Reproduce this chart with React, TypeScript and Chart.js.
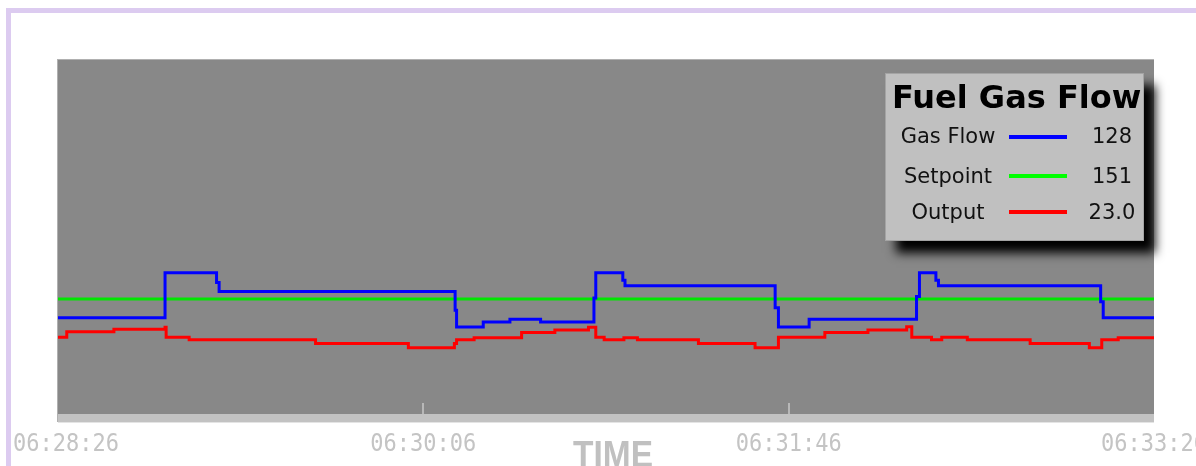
import React, { useEffect, useRef } from 'react';
import { Chart, registerables } from 'chart.js';

Chart.register(...registerables);

// ---- data ----
const tickSeconds = [0, 100, 200, 300];
const tickLabels = ['06:28:26', '06:30:06', '06:31:46', '06:33:26'];
const axisTitle = 'TIME';
const legendTitle = 'Fuel Gas Flow';
const seriesNames = ['Gas Flow', 'Setpoint', 'Output'];
const currentReadings = ['128', '151', '23.0'];

const gasFlowTimes = [0, 29.3, 43.4, 44.1, 108.7, 109.1, 116.4, 123.7, 132.1, 146.7, 147.2, 154.6, 155.2, 196.3, 197.2, 205.6, 235.0, 235.8, 240.3, 241.0, 285.4, 286.1, 300];
const gasFlowValues = [128, 183, 171, 160, 137, 116.5, 122.7, 126, 122.7, 152, 183, 174, 167, 140, 116.5, 126, 154, 183, 174, 167, 147.5, 128, 128];

const setpointTimes = [0, 300];
const setpointValues = [151, 151];

const outputTimes = [0, 2.4, 15.3, 29.3, 29.6, 35.9, 70.5, 95.9, 108.5, 109.1, 113.9, 126.9, 136.0, 145.2, 147.2, 149.5, 154.9, 158.6, 175.3, 190.8, 197.2, 209.9, 221.7, 232.3, 233.7, 239.1, 241.9, 248.9, 266.1, 282.3, 285.7, 290.2, 300];
const outputValues = [23.4, 24.9, 25.6, 26.2, 23.4, 22.7, 21.7, 20.5, 21.7, 22.7, 23.3, 24.7, 25.4, 26.2, 23.4, 22.7, 23.3, 22.7, 21.7, 20.5, 23.4, 24.7, 25.4, 26.3, 23.4, 22.7, 23.4, 22.7, 21.7, 20.5, 22.7, 23.3, 23.3];

const seriesColors = ['#0000ff', '#00e600', '#ff0000'];
const legendColors = ['#0000ff', '#00ff00', '#ff0000'];

const pts = (ts: number[], vs: number[]) => ts.map((t, i) => ({ x: t, y: vs[i] }));

const decorPlugin = {
  id: 'decor',
  beforeDatasetsDraw(chart: any) {
    const { ctx, chartArea: a } = chart;
    ctx.save();
    ctx.fillStyle = '#888888';
    ctx.fillRect(a.left, a.top, a.right - a.left, a.bottom - a.top);
    ctx.fillStyle = '#b0b0b0';
    ctx.fillRect(a.left - 1, a.top - 1, a.right - a.left + 1, 1);
    ctx.fillRect(a.left - 1, a.top - 1, 1, a.bottom - a.top + 1);
    ctx.restore();
  },
  afterDatasetsDraw(chart: any) {
    const { ctx, chartArea: a } = chart;
    const xs = chart.scales.x;
    ctx.save();
    ctx.fillStyle = '#c2c2c2';
    ctx.fillRect(a.left, a.bottom - 8, a.right - a.left, 8);
    ctx.fillStyle = '#e4e4e4';
    ctx.fillRect(a.left, a.bottom, a.right - a.left, 1);
    ctx.fillStyle = '#b8b8b8';
    tickSeconds.forEach((t, i) => {
      if (i === 0 || i === tickSeconds.length - 1) return;
      const px = Math.round(xs.getPixelForValue(t));
      ctx.fillRect(px - 1, a.bottom - 19, 2, 11);
    });
    ctx.restore();
  },
  afterDraw(chart: any) {
    const { ctx, chartArea: a } = chart;
    const xs = chart.scales.x;
    ctx.save();

    ctx.fillStyle = '#c4c4c4';
    ctx.font = '22px "DejaVu Sans Mono"';
    ctx.textAlign = 'center';
    ctx.textBaseline = 'alphabetic';
    tickSeconds.forEach((t, i) => {
      const w = ctx.measureText(tickLabels[i]).width;
      let px = xs.getPixelForValue(t);
      px = Math.max(px, 13 + w / 2);
      ctx.save();
      ctx.translate(px, 451);
      ctx.scale(1, 1.12);
      ctx.fillText(tickLabels[i], 0, 0);
      ctx.restore();
    });

    ctx.save();
    ctx.fillStyle = '#c0c0c0';
    ctx.font = 'bold 36px "Liberation Sans"';
    ctx.textAlign = 'center';
    ctx.translate((a.left + a.right) / 2 + 7, 467);
    ctx.scale(0.93, 1);
    ctx.fillText(axisTitle, 0, 0);
    ctx.restore();

    const bx = 885, by = 73, bw = 259, bh = 168;
    ctx.save();
    ctx.shadowColor = 'rgba(0,0,0,1)';
    ctx.shadowBlur = 10;
    ctx.shadowOffsetX = 11;
    ctx.shadowOffsetY = 12;
    ctx.fillStyle = '#c0c0c0';
    ctx.fillRect(bx, by, bw, bh);
    ctx.restore();
    ctx.strokeStyle = '#a4a4a4';
    ctx.lineWidth = 1;
    ctx.strokeRect(bx + 0.5, by + 0.5, bw - 1, bh - 1);

    ctx.fillStyle = '#000000';
    ctx.font = 'bold 32px "DejaVu Sans"';
    ctx.textAlign = 'left';
    ctx.fillText(legendTitle, 892, 108);

    const baselines = [143, 183, 219];
    const lineYs = [137, 176, 212];
    ctx.font = '21px "DejaVu Sans"';
    seriesNames.forEach((name, i) => {
      ctx.fillStyle = '#111111';
      ctx.textAlign = 'center';
      ctx.fillText(name, 948, baselines[i]);
      ctx.fillText(currentReadings[i], 1112, baselines[i]);
      ctx.fillStyle = legendColors[i];
      ctx.fillRect(1009, lineYs[i] - 2, 58, 4);
    });

    ctx.restore();
  },
};

export default function App() {
  const ref = useRef<HTMLCanvasElement | null>(null);

  useEffect(() => {
    document.body.style.margin = '0';
    if (!ref.current) return;
    const chart = new Chart(ref.current, {
      type: 'line',
      data: {
        datasets: [
          {
            label: seriesNames[0],
            data: pts(gasFlowTimes, gasFlowValues),
            borderColor: seriesColors[0],
            yAxisID: 'y',
          },
          {
            label: seriesNames[2],
            data: pts(outputTimes, outputValues),
            borderColor: seriesColors[2],
            yAxisID: 'y2',
          },
          {
            label: seriesNames[1],
            data: pts(setpointTimes, setpointValues),
            borderColor: seriesColors[1],
            yAxisID: 'y',
          },
        ].map((d) => ({
          ...d,
          stepped: 'before' as const,
          borderWidth: 3,
          pointRadius: 0,
          tension: 0,
          fill: false,
          borderCapStyle: 'butt' as const,
          borderJoinStyle: 'miter' as const,
        })),
      },
      options: {
        animation: false,
        responsive: false,
        devicePixelRatio: 1,
        layout: { padding: { left: 58, right: 42, top: 60, bottom: 44 } },
        plugins: { legend: { display: false }, tooltip: { enabled: false } },
        scales: {
          x: { type: 'linear', min: 0, max: 300, display: false },
          y: { type: 'linear', min: 0, max: 444, display: false },
          y2: { type: 'linear', min: 0, max: 100, display: false },
        },
      },
      plugins: [decorPlugin],
    });
    return () => chart.destroy();
  }, []);

  return (
    <div style={{ position: 'relative', width: 1196, height: 466, overflow: 'hidden', background: '#ffffff' }}>
      <div
        style={{
          position: 'absolute',
          left: 6,
          top: 8,
          width: 1200,
          height: 480,
          borderLeft: '5px solid #dccbf0',
          borderTop: '5px solid #dccbf0',
        }}
      />
      <canvas ref={ref} width={1196} height={466} style={{ position: 'absolute', left: 0, top: 0 }} />
    </div>
  );
}
